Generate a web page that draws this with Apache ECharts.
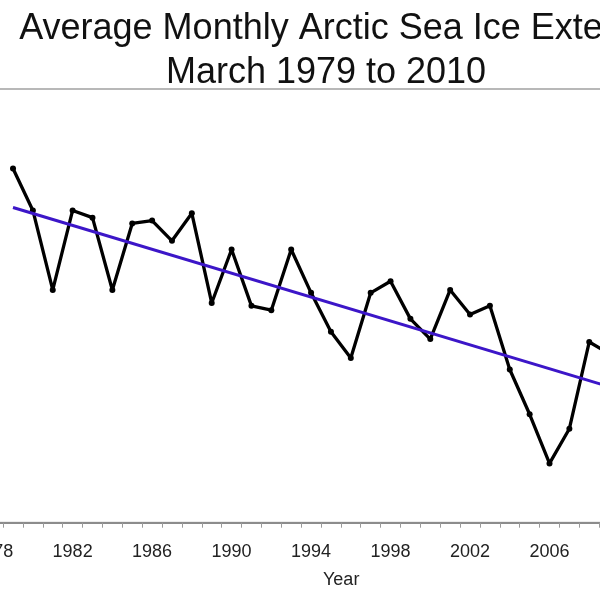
<!DOCTYPE html>
<html>
<head>
<meta charset="utf-8">
<script src="https://cdn.jsdelivr.net/npm/echarts@6/dist/echarts.min.js"></script>
<style>
html,body{margin:0;padding:0;width:600px;height:600px;overflow:hidden;background:#fff;}
#chart{position:absolute;left:-100px;top:0;width:852px;height:600px;}
</style>
</head>
<body>
<div id="chart"></div>
<script>
// Axis categories (years shown on the x axis)
const axisYears = ['1978','1979','1980','1981','1982','1983','1984','1985','1986','1987','1988','1989','1990','1991','1992','1993','1994','1995','1996','1997','1998','1999','2000','2001','2002','2003','2004','2005','2006','2007','2008','2009','2010','2011'];
// Observed years and March extent (million sq km)
const dataYears = ['1979','1980','1981','1982','1983','1984','1985','1986','1987','1988','1989','1990','1991','1992','1993','1994','1995','1996','1997','1998','1999','2000','2001','2002','2003','2004','2005','2006','2007','2008','2009','2010'];
const extent = [16.45,16.16,15.61,16.16,16.11,15.61,16.07,16.09,15.95,16.14,15.52,15.89,15.50,15.47,15.89,15.59,15.32,15.14,15.59,15.67,15.41,15.27,15.61,15.44,15.50,15.06,14.75,14.41,14.65,15.25,15.17,15.10];
// Linear trend end points
const trendYears = ['1979','2010'];
const trendValues = [16.18,14.90];

const titleText = 'Average Monthly Arctic Sea Ice Extent\nMarch 1979 to 2010';
const xName = 'Year';

const lineData = dataYears.map((y,i)=>[y, extent[i]]);
const trendData = trendYears.map((y,i)=>[y, trendValues[i]]);

const chart = echarts.init(document.getElementById('chart'), null, {renderer:'canvas'});
chart.setOption({
  animation:false,
  backgroundColor:'#fff',
  title:{
    text:titleText,
    left:'center',
    top:2,
    textStyle:{fontFamily:'Liberation Sans, Arial, sans-serif',fontSize:36,fontWeight:'normal',color:'#111',lineHeight:44}
  },
  grid:{
    left:83.2, top:89, width:675.6, height:433.7,
    show:true, borderColor:'#b8b8b8', borderWidth:2, backgroundColor:'transparent'
  },
  xAxis:{
    type:'category',
    data:axisYears,
    boundaryGap:true,
    axisLine:{show:true,lineStyle:{color:'#8c8c8c',width:2}},
    axisTick:{show:true,interval:0,length:5,inside:false,lineStyle:{color:'#9a9a9a',width:1}},
    axisLabel:{interval:3,margin:20,fontFamily:'Liberation Sans, Arial, sans-serif',fontSize:18,color:'#222'},
    splitLine:{show:false}
  },
  yAxis:{
    type:'value',
    min:14, max:17, interval:0.5,
    axisLine:{show:true,lineStyle:{color:'#8c8c8c'}},
    axisTick:{show:true},
    axisLabel:{show:true,fontSize:18,color:'#222'},
    splitLine:{show:false}
  },
  graphic:[{
    type:'text',
    left:100+341-18, top:571,
    style:{text:xName,fontFamily:'Liberation Sans, Arial, sans-serif',fontSize:18,fill:'#222'}
  }],
  series:[
    {
      type:'line',
      data:lineData,
      symbol:'circle',
      symbolSize:6,
      itemStyle:{color:'#000'},
      lineStyle:{color:'#000',width:3.3},
      z:2
    },
    {
      type:'line',
      data:trendData,
      symbol:'none',
      lineStyle:{color:'#3c16c8',width:3},
      z:3
    }
  ]
});
</script>
</body>
</html>
